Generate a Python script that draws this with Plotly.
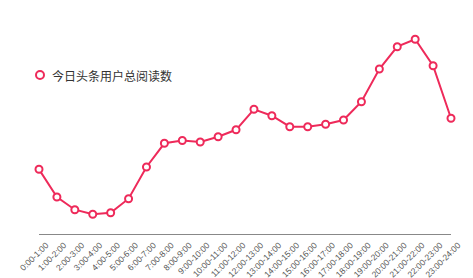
import plotly.graph_objects as go

categories = [f"{h}:00-{h+1}:00" for h in range(24)]
values = [64.7, 37, 24.3, 19.7, 21.3, 35.3, 67, 90.7, 93.5, 92, 97.3, 104.2,
          124.7, 118.3, 107.3, 107.3, 109.7, 114, 132.3, 165, 187.3, 194.7, 168.3, 115.7]
series_name = "今日头条用户总阅读数"

color = "#ee2a5a"

fig = go.Figure()
fig.add_trace(go.Scatter(
    x=categories, y=values, mode="lines+markers", name=series_name,
    line=dict(color=color, width=2),
    marker=dict(symbol="circle", size=7, color="white", line=dict(color=color, width=2)),
    showlegend=False, cliponaxis=False,
))

# legend drawn manually (marker + text)
fig.add_shape(type="circle", xref="paper", yref="paper",
              x0=(36 - 39) / 412, x1=(44 - 39) / 412,
              y0=(234 - 79) / 214, y1=(234 - 71) / 214,
              line=dict(color=color, width=2), fillcolor="white")
fig.add_annotation(text=series_name, xref="paper", yref="paper",
                   x=(50 - 39) / 412, y=(234 - 75) / 214, xanchor="left", yanchor="middle",
                   showarrow=False, font=dict(size=12, color="#333",
                                              family="Noto Sans CJK SC, sans-serif"))

fig.update_layout(
    width=473, height=278,
    margin=dict(l=39, r=22, t=20, b=44, autoexpand=False),
    paper_bgcolor="white", plot_bgcolor="white",
    font=dict(family="Liberation Sans, Arial, sans-serif"),
)
fig.update_xaxes(
    automargin=False,
    showline=True, linecolor="#888", linewidth=1, showgrid=False, zeroline=False,
    ticks="", tickangle=-45, tickfont=dict(size=8.5, color="#555"),
    ticklabelshift=7, ticklabelstandoff=2,
    range=[0, 23],
)
fig.update_yaxes(automargin=False, visible=False, range=[0, 214], showgrid=False, zeroline=False)

fig.write_html("out.html")
